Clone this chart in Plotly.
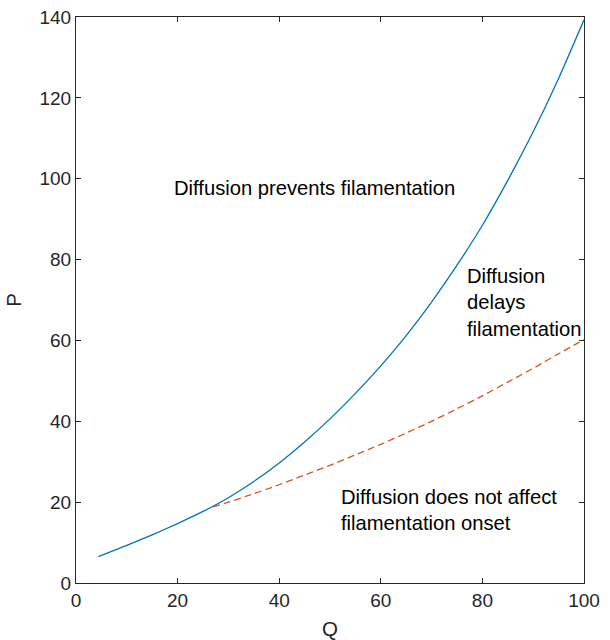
import plotly.graph_objects as go

# Blue solid boundary (upper curve)
q_blue = [4.4, 10, 15, 20, 25, 30, 35, 40, 45, 50, 55, 60, 65, 70, 75, 80, 85, 90, 95, 100]
p_blue = [6.5, 9.3, 11.9, 14.7, 17.7, 21.1, 25.1, 29.7, 34.9, 40.6, 46.9, 53.7, 61.2, 69.5, 78.6, 88.5, 99.6, 111.6, 124.8, 139.3]

# Red dashed boundary (lower curve)
q_red = [27, 30, 35, 40, 45, 50, 55, 60, 65, 70, 75, 80, 85, 90, 95, 100]
p_red = [18.8, 20.0, 22.1, 24.3, 26.7, 29.1, 31.7, 34.3, 37.1, 40.0, 43.1, 46.3, 49.7, 53.1, 56.7, 60.2]

x_ticks = [0, 20, 40, 60, 80, 100]
y_ticks = [0, 20, 40, 60, 80, 100, 120, 140]

labels = [
    ("Diffusion prevents filamentation", 18.9, 97.7),
    ("Diffusion<br>delays<br>filamentation", 76.6, 69.3),
    ("Diffusion does not affect<br>filamentation onset", 51.8, 18.0),
]

axcol = "#262626"
font_family = "Liberation Sans, Arial, sans-serif"

fig = go.Figure()
fig.add_trace(go.Scatter(x=q_blue, y=p_blue, mode="lines", line=dict(color="#0072BD", width=1.3, shape="spline", smoothing=0.6), showlegend=False))
fig.add_trace(go.Scatter(x=q_red, y=p_red, mode="lines", line=dict(color="#D95319", width=1.3, dash="7px,4px", shape="spline", smoothing=0.6), showlegend=False))

for txt, x, y in labels:
    fig.add_annotation(x=x, y=y, text=txt, showarrow=False, xanchor="left", yanchor="middle", align="left",
                       font=dict(size=20.2, color="black", family=font_family))

axis_common = dict(showgrid=False, zeroline=False, showline=True, linecolor=axcol, linewidth=1,
                   mirror="ticks", ticks="inside", ticklen=5, tickcolor=axcol, tickwidth=1,
                   automargin=False,
                   tickfont=dict(size=19, color=axcol, family=font_family))

fig.update_xaxes(range=[0, 100], tickvals=x_ticks, title=dict(text="Q", font=dict(size=20.5, color=axcol, family=font_family), standoff=12), **axis_common)
fig.update_yaxes(range=[0, 140], tickvals=y_ticks, title=dict(text="P", font=dict(size=20.5, color=axcol, family=font_family), standoff=12), **axis_common)

fig.update_layout(width=610, height=640, margin=dict(l=76, r=26, t=17, b=57),
                  paper_bgcolor="white", plot_bgcolor="white")

fig.write_html("out.html")
